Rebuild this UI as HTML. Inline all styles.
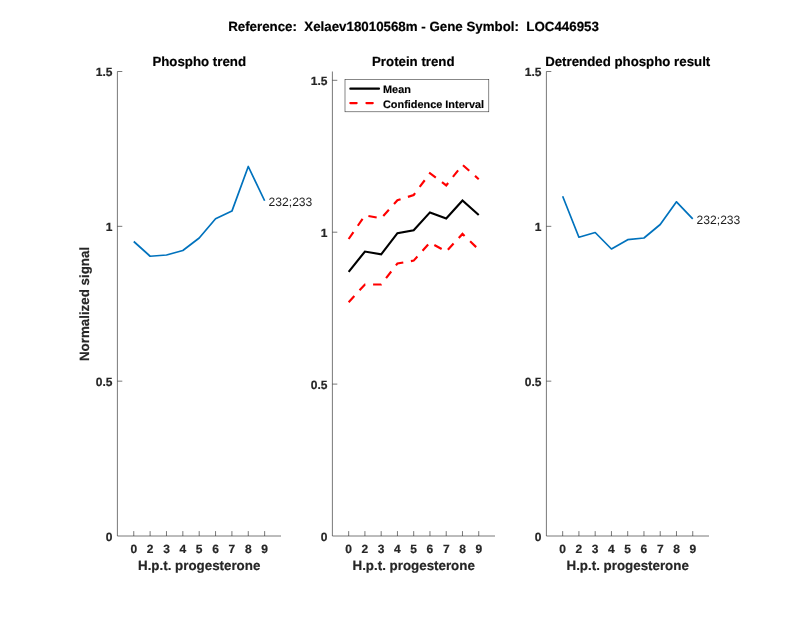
<!DOCTYPE html>
<html lang="en"><head><meta charset="utf-8"><title>Reference: Xelaev18010568m - Gene Symbol: LOC446953</title>
<style>
html,body{margin:0;padding:0;background:#fff;}
body{width:800px;height:618px;overflow:hidden;}
svg{display:block;}
text{font-family:"Liberation Sans",Arial,Helvetica,sans-serif;text-rendering:geometricPrecision;}
.tk{font-size:12px;font-weight:bold;fill:#262626;stroke:#262626;stroke-width:0.2px;}
.lb{font-size:13.35px;font-weight:bold;fill:#262626;stroke:#262626;stroke-width:0.2px;}
.tt{font-size:13.27px;font-weight:bold;fill:#000;stroke:#000;stroke-width:0.2px;}
.lg{font-size:10.9px;font-weight:bold;fill:#000;stroke:#000;stroke-width:0.15px;}
.an{font-size:12.1px;fill:#1c1c1c;}
.ax{stroke:#262626;stroke-width:0.62;fill:none;}
</style></head><body>
<svg width="800" height="618" viewBox="0 0 800 618">
<rect x="0" y="0" width="800" height="618" fill="#ffffff"/>
<text class="tt" style="font-size:13.32px;white-space:pre" x="413.5" y="30.5" text-anchor="middle" xml:space="preserve">Reference:  Xelaev18010568m - Gene Symbol:  LOC446953</text>
<g id="axes1">
<path class="ax" d="M117.40 71.50V536.00H281.00"/>
<path class="ax" d="M133.76 536.00v-4.9M150.12 536.00v-4.9M166.48 536.00v-4.9M182.84 536.00v-4.9M199.20 536.00v-4.9M215.56 536.00v-4.9M231.92 536.00v-4.9M248.28 536.00v-4.9M264.64 536.00v-4.9M117.40 381.17h4.9M117.40 226.33h4.9M117.40 71.50h4.9"/>
<text class="tk" x="133.76" y="553.2" text-anchor="middle">0</text>
<text class="tk" x="150.12" y="553.2" text-anchor="middle">2</text>
<text class="tk" x="166.48" y="553.2" text-anchor="middle">3</text>
<text class="tk" x="182.84" y="553.2" text-anchor="middle">4</text>
<text class="tk" x="199.20" y="553.2" text-anchor="middle">5</text>
<text class="tk" x="215.56" y="553.2" text-anchor="middle">6</text>
<text class="tk" x="231.92" y="553.2" text-anchor="middle">7</text>
<text class="tk" x="248.28" y="553.2" text-anchor="middle">8</text>
<text class="tk" x="264.64" y="553.2" text-anchor="middle">9</text>
<text class="tk" x="112.40" y="540.70" text-anchor="end">0</text>
<text class="tk" x="112.40" y="385.87" text-anchor="end">0.5</text>
<text class="tk" x="112.40" y="231.03" text-anchor="end">1</text>
<text class="tk" x="112.40" y="76.20" text-anchor="end">1.5</text>
<text class="lb" x="199.20" y="569.6" text-anchor="middle">H.p.t. progesterone</text>
<text class="tt" x="199.20" y="65.5" text-anchor="middle">Phospho trend</text>
</g>
<g id="axes2">
<path class="ax" d="M332.40 71.50V536.00H495.00"/>
<path class="ax" d="M348.66 536.00v-4.9M364.92 536.00v-4.9M381.18 536.00v-4.9M397.44 536.00v-4.9M413.70 536.00v-4.9M429.96 536.00v-4.9M446.22 536.00v-4.9M462.48 536.00v-4.9M478.74 536.00v-4.9M332.40 384.10h4.9M332.40 232.20h4.9M332.40 80.30h4.9"/>
<text class="tk" x="348.66" y="553.2" text-anchor="middle">0</text>
<text class="tk" x="364.92" y="553.2" text-anchor="middle">2</text>
<text class="tk" x="381.18" y="553.2" text-anchor="middle">3</text>
<text class="tk" x="397.44" y="553.2" text-anchor="middle">4</text>
<text class="tk" x="413.70" y="553.2" text-anchor="middle">5</text>
<text class="tk" x="429.96" y="553.2" text-anchor="middle">6</text>
<text class="tk" x="446.22" y="553.2" text-anchor="middle">7</text>
<text class="tk" x="462.48" y="553.2" text-anchor="middle">8</text>
<text class="tk" x="478.74" y="553.2" text-anchor="middle">9</text>
<text class="tk" x="327.40" y="540.70" text-anchor="end">0</text>
<text class="tk" x="327.40" y="388.80" text-anchor="end">0.5</text>
<text class="tk" x="327.40" y="236.90" text-anchor="end">1</text>
<text class="tk" x="327.40" y="85.00" text-anchor="end">1.5</text>
<text class="lb" x="413.70" y="569.6" text-anchor="middle">H.p.t. progesterone</text>
<text class="tt" x="413.30" y="65.5" text-anchor="middle">Protein trend</text>
</g>
<g id="axes3">
<path class="ax" d="M546.40 71.50V536.00H709.00"/>
<path class="ax" d="M562.66 536.00v-4.9M578.92 536.00v-4.9M595.18 536.00v-4.9M611.44 536.00v-4.9M627.70 536.00v-4.9M643.96 536.00v-4.9M660.22 536.00v-4.9M676.48 536.00v-4.9M692.74 536.00v-4.9M546.40 381.17h4.9M546.40 226.33h4.9M546.40 71.50h4.9"/>
<text class="tk" x="562.66" y="553.2" text-anchor="middle">0</text>
<text class="tk" x="578.92" y="553.2" text-anchor="middle">2</text>
<text class="tk" x="595.18" y="553.2" text-anchor="middle">3</text>
<text class="tk" x="611.44" y="553.2" text-anchor="middle">4</text>
<text class="tk" x="627.70" y="553.2" text-anchor="middle">5</text>
<text class="tk" x="643.96" y="553.2" text-anchor="middle">6</text>
<text class="tk" x="660.22" y="553.2" text-anchor="middle">7</text>
<text class="tk" x="676.48" y="553.2" text-anchor="middle">8</text>
<text class="tk" x="692.74" y="553.2" text-anchor="middle">9</text>
<text class="tk" x="541.40" y="540.70" text-anchor="end">0</text>
<text class="tk" x="541.40" y="385.87" text-anchor="end">0.5</text>
<text class="tk" x="541.40" y="231.03" text-anchor="end">1</text>
<text class="tk" x="541.40" y="76.20" text-anchor="end">1.5</text>
<text class="lb" x="627.70" y="569.6" text-anchor="middle">H.p.t. progesterone</text>
<text class="tt" x="627.70" y="65.5" text-anchor="middle">Detrended phospho result</text>
</g>
<text class="lb" transform="translate(89.3,304) rotate(-90)" text-anchor="middle">Normalized signal</text>
<polyline points="133.76,241.50 150.12,256.25 166.48,255.00 182.84,250.50 199.20,238.00 215.56,218.80 231.92,211.10 248.28,166.50 264.64,200.75" fill="none" stroke="#0072BD" stroke-width="1.7" stroke-linejoin="round"/>
<text class="an" x="268.6" y="206.0">232;233</text>
<polyline points="348.66,271.80 364.92,251.55 381.18,254.40 397.44,233.20 413.70,230.30 429.96,212.40 446.22,218.40 462.48,200.50 478.74,215.00" fill="none" stroke="#000" stroke-width="2.15" stroke-linejoin="miter"/>
<polyline points="348.66,239.00 364.92,215.40 381.18,218.30 397.44,200.20 413.70,195.00 429.96,173.20 446.22,185.40 462.48,164.80 478.74,179.20" fill="none" stroke="#f00" stroke-width="2.15" stroke-dasharray="8.4 7.7" stroke-linejoin="miter"/>
<polyline points="348.66,302.20 364.92,284.50 381.18,284.50 397.44,263.50 413.70,260.60 429.96,242.50 446.22,251.60 462.48,233.90 478.74,249.60" fill="none" stroke="#f00" stroke-width="2.15" stroke-dasharray="8.4 7.7" stroke-linejoin="miter"/>
<rect x="345.0" y="79.6" width="143.8" height="32.2" fill="#fff" stroke="#262626" stroke-width="0.55"/>
<line x1="350.3" y1="88.65" x2="379.0" y2="88.65" stroke="#000" stroke-width="2.1" stroke-linecap="round"/>
<line x1="350.3" y1="103.1" x2="379.0" y2="103.1" stroke="#f00" stroke-width="2.1" stroke-dasharray="6.4 9.7" stroke-linecap="round"/>
<text class="lg" x="383.0" y="92.9">Mean</text>
<text class="lg" x="383.0" y="107.7">Confidence Interval</text>
<polyline points="562.66,196.20 578.92,237.20 595.18,232.50 611.44,249.00 627.70,239.70 643.96,238.00 660.22,224.50 676.48,201.80 692.74,218.80" fill="none" stroke="#0072BD" stroke-width="1.7" stroke-linejoin="round"/>
<text class="an" x="696.6" y="223.6">232;233</text>
</svg></body></html>
